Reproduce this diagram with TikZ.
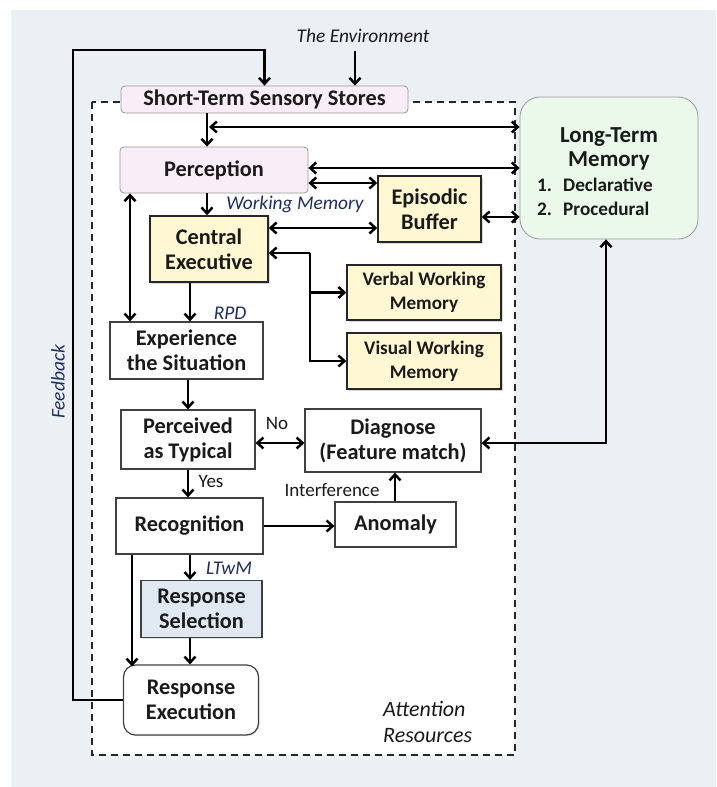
\documentclass[tikz,border=0pt]{standalone}
\usepackage{fontspec}
\setmainfont{Carlito}
\usetikzlibrary{arrows.meta,shadows}
\definecolor{bgc}{HTML}{EBF0F4}
\definecolor{pinkf}{HTML}{F9EEF7}
\definecolor{yelf}{HTML}{FFF8D3}
\definecolor{greenf}{HTML}{EAF9EA}
\definecolor{bluef}{HTML}{E0E8F2}
\definecolor{txt}{HTML}{1A1A1A}
\definecolor{navy}{HTML}{1F2D5C}
\begin{document}
\begin{tikzpicture}[x=1pt,y=-1pt,
  base/.style={align=center, text=txt, font=\bfseries\fontsize{22.3}{25}\selectfont, inner sep=0pt},
  pinkbox/.style={base, fill=pinkf, draw=black!40, line width=0.8pt, rounded corners=4pt},
  yelbox/.style={base, fill=yelf, draw=black!85, line width=1.5pt,
     drop shadow={opacity=0.3,shadow xshift=1.5pt,shadow yshift=-1.5pt}},
  whitebox/.style={base, fill=white, draw=black!75, line width=1.2pt,
     drop shadow={opacity=0.2,shadow xshift=1.2pt,shadow yshift=-1.2pt}},
  bluebox/.style={whitebox, fill=bluef},
  ltmbox/.style={base, fill=greenf, draw=black!40, line width=0.8pt, rounded corners=20pt},
  sm/.style={font=\bfseries\fontsize{19.2}{24}\selectfont},
  lab/.style={text=txt, inner sep=0pt, font=\fontsize{19}{20}\selectfont},
  ilab/.style={lab, font=\itshape\fontsize{19.4}{20}\selectfont},
  nlab/.style={ilab, text=navy},
  arr/.style={line width=2.5pt, -{Straight Barb[length=6pt,width=11pt]}},
  darr/.style={line width=2.5pt, {Straight Barb[length=6pt,width=11pt]}-{Straight Barb[length=6pt,width=11pt]}},
  rarr/.style={line width=2.5pt, {Straight Barb[length=6pt,width=11pt]}-},
]
\useasboundingbox (0,0) rectangle (716,787);
\fill[bgc] (11,10) rectangle (716,787);
% attention resources frame
\draw[fill=white, draw=black!85, line width=1.5pt, dash pattern=on 7pt off 5pt] (92,102) rectangle (515,755);

% nodes
\node[pinkbox, minimum width=287pt, minimum height=27pt] (stss) at (264.5,99.5) {Short-Term Sensory Stores};
\node[pinkbox, minimum width=188pt, minimum height=46pt] (perc) at (214,170) {Perception};
\node[ltmbox, minimum width=178pt, minimum height=142pt] (ltm) at (609,168) {};
\node[base, anchor=base, font=\bfseries\fontsize{22.9}{24}\selectfont] (ltma) at (609,142) {Long-Term};
\node[base, anchor=base, font=\bfseries\fontsize{22.9}{24}\selectfont] (ltmb) at (609,166) {Memory};
\node[base, sm, anchor=base west] (ltmc) at (537,191) {\makebox[26pt][l]{1.}Declarative};
\node[base, sm, anchor=base west] (ltmd) at (537,215) {\makebox[26pt][l]{2.}Procedural};
\node[yelbox, minimum width=103pt, minimum height=66pt] (eb) at (429.5,209) {Episodic\\Buffer};
\node[yelbox, minimum width=118pt, minimum height=66pt] (ce) at (209,249) {Central\\Executive};
\node[yelbox, sm, minimum width=154pt, minimum height=55pt] (verb) at (424,292.5) {Verbal Working\\Memory};
\node[yelbox, sm, minimum width=154pt, minimum height=56pt] (vis) at (424,361) {Visual Working\\Memory};
\node[whitebox, minimum width=153pt, minimum height=57pt] (exp) at (186.5,350.5) {Experience\\the Situation};
\node[whitebox, minimum width=134pt, minimum height=59pt] (ptyp) at (188,439.5) {Perceived\\as Typical};
\node[whitebox, minimum width=176pt, minimum height=63pt] (diag) at (393,440.5) {Diagnose\\(Feature match)};
\node[whitebox, minimum width=147pt, minimum height=56pt] (rec) at (189.5,526) {Recognition};
\node[whitebox, minimum width=121pt, minimum height=45pt] (anom) at (395.5,524.5) {Anomaly};
\node[bluebox, minimum width=121pt, minimum height=57pt] (rsel) at (201.5,609) {Response\\Selection};
\node[whitebox, rounded corners=12pt, minimum width=135pt, minimum height=70pt] (rexe) at (191,700) {Response\\Execution};

% labels
\node[ilab] (envl) at (363,36) {The Environment};
\node[nlab] (wml) at (295,204) {Working Memory};
\node[nlab] (rpdl) at (230,313) {RPD};
\node[lab] (nol) at (277,423) {No};
\node[lab] (yesl) at (211,481) {Yes};
\node[lab] (intl) at (332,490) {Interference};
\node[nlab] (ltwml) at (229,568) {LTwM};
\node[ilab, anchor=west, font=\itshape\fontsize{22}{24}\selectfont] (att1) at (383,709) {Attention};
\node[ilab, anchor=west, font=\itshape\fontsize{22}{24}\selectfont] (att2) at (383,736) {Resources};
\node[nlab, rotate=90] (fbl) at (58,382) {Feedback};

% helper coordinates
\coordinate (envsrc) at (355,51);
\coordinate (fbc) at (73,50);
\coordinate (xA) at (207,0);
\coordinate (j1) at (209,127);
\coordinate (y1) at (0,168);
\coordinate (y2) at (0,183);
\coordinate (y3) at (0,228);
\coordinate (y4) at (0,217);
\coordinate (br) at (310,253);
\coordinate (xB) at (130,0);
\coordinate (xC) at (190,0);
\coordinate (xD) at (188,0);
\coordinate (yE) at (0,443);
\coordinate (xF) at (606,0);
\coordinate (xG) at (132,0);
\coordinate (xH) at (395,0);

% connectors
\draw[arr] (envsrc) -- (envsrc |- stss.north);
\draw[arr] (rexe.west) -| (fbc) -| (stss.north);
\draw[arr] (stss.south -| xA) -- (perc.north -| xA);
\draw[darr] (j1) -- (ltm.west |- j1);
\draw[darr] (perc.east |- y1) -- (ltm.west |- y1);
\draw[darr] (perc.east |- y2) -- (eb.west |- y2);
\draw[darr] (eb.east |- y4) -- (ltm.west |- y4);
\draw[arr] (perc.south -| xA) -- (ce.north -| xA);
\draw[darr] (ce.east |- y3) -- (eb.west |- y3);
\draw[rarr] (ce.east |- br) -- (br);
\draw[arr] (br) |- (verb.west);
\draw[arr] (br) |- (vis.west);
\draw[darr] (perc.south -| xB) -- (exp.north -| xB);
\draw[arr] (ce.south -| xC) -- (exp.north -| xC);
\draw[arr] (exp.south -| xD) -- (ptyp.north -| xD);
\draw[darr] (ptyp.east |- yE) -- (diag.west |- yE);
\draw[darr] (ltm.south -| xF) |- (diag.east |- yE);
\draw[arr] (ptyp.south -| xD) -- (rec.north -| xD);
\draw[arr] (rec.east) -- (anom.west |- rec.east);
\draw[arr] (anom.north -| xH) -- (diag.south -| xH);
\draw[arr] (rec.south -| xC) -- (rsel.north -| xC);
\draw[arr] (rsel.south -| xC) -- (rexe.north -| xC);
\draw[arr] (rec.south -| xG) -- ([yshift=-2pt]rexe.north -| xG);
\end{tikzpicture}
\end{document}
